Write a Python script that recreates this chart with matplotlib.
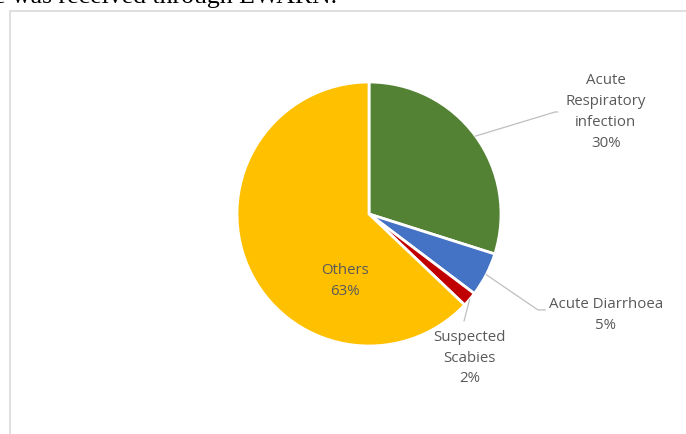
import numpy as np
import matplotlib.pyplot as plt
from matplotlib.patches import Rectangle

# data (share of cases, %)
diseases = ['Acute\nRespiratory\ninfection', 'Acute Diarrhoea', 'Suspected\nScabies', 'Others']
shares = [29.9, 5.4, 1.8, 62.9]
colors = ['#548235', '#4472C4', '#C00000', '#FFC000']

W, H = 686, 435
cx, cy, r = 369, 215, 132   # pie centre / radius in pixels

fig = plt.figure(figsize=(W / 100, H / 100), dpi=100)

# chart frame (clipped by the page edge on right and bottom)
fig.patches.append(Rectangle((10 / W, -0.1), 1.0, 1 - 12 / H + 0.1,
                             transform=fig.transFigure, fill=False,
                             edgecolor='#d9d9d9', linewidth=1.2))

# cut-off line of document text above the chart
fig.text(-6 / W, 1 - 3 / H, 'e was received through EWARN.', family='Liberation Serif',
         fontsize=18.5, color='black', va='baseline', ha='left')

ax = fig.add_axes([(cx - r) / W, (H - cy - r) / H, 2 * r / W, 2 * r / H])
wedges, _ = ax.pie(shares, colors=colors, startangle=90, counterclock=False,
                   radius=1, wedgeprops=dict(edgecolor='white', linewidth=2))
ax.set_xlim(-1, 1)
ax.set_ylim(-1, 1)
ax.set_aspect('equal')
ax.axis('off')

txt = dict(family='Open Sans', fontsize=10.8, color='#595959', ha='center',
           va='center', linespacing=1.52)

# label positions (data units) and leader elbows
label_xy = [(1.795, 0.78), (1.795, -0.76), (0.76, -1.085), (-0.18, -0.5)]
elbows = [[(1.41, 0.773), (1.43, 0.773)],
          [(1.28, -0.727), (1.335, -0.727)],
          [(0.72, -0.81)],
          None]

for w, name, val, pos, elb in zip(wedges, diseases, shares, label_xy, elbows):
    ax.text(pos[0], pos[1], f'{name}\n{val:.0f}%', clip_on=False, **txt)
    if elb:
        ang = np.deg2rad((w.theta1 + w.theta2) / 2)
        pts = [(np.cos(ang), np.sin(ang))] + elb
        xs, ys = zip(*pts)
        ax.plot(xs, ys, color='#bfbfbf', linewidth=0.9, clip_on=False)

fig.savefig('out.png', dpi=100)
